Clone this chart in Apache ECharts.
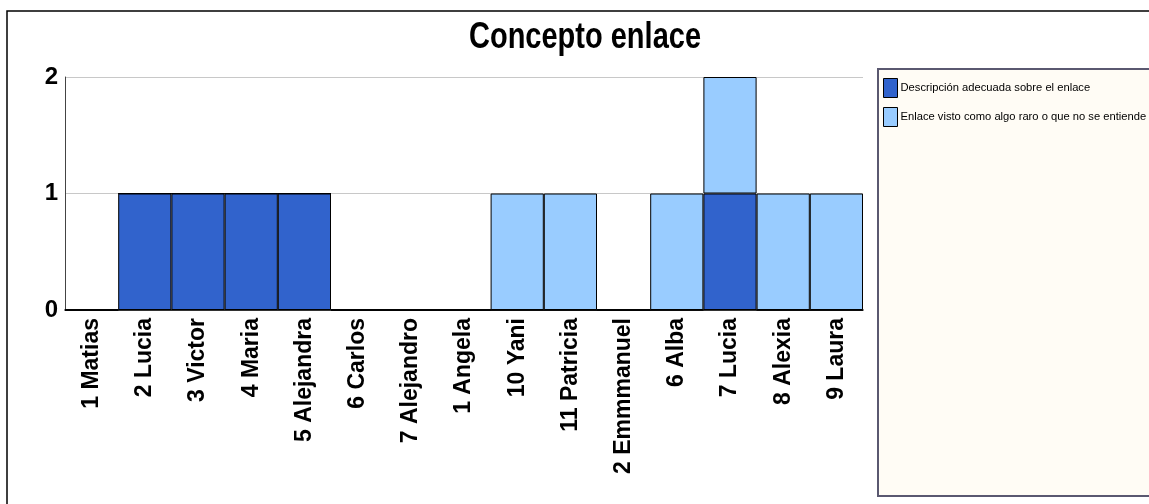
<!DOCTYPE html>
<html>
<head>
<meta charset="utf-8">
<script src="https://cdn.jsdelivr.net/npm/echarts@6/dist/echarts.min.js"></script>
<style>
html,body{margin:0;padding:0;background:#fff;}
#c{width:1149px;height:504px;}
</style>
</head>
<body>
<div id="c"></div>
<script>
const categories = ["1 Matias","2 Lucia","3 Victor","4 Maria","5 Alejandra","6 Carlos","7 Alejandro","1 Angela","10 Yani","11 Patricia","2 Emmmanuel","6 Alba","7 Lucia","8 Alexia","9 Laura"];
const seriesNames = ["Descripción adecuada sobre el enlace","Enlace visto como algo raro o que no se entiende"];
const adecuada = [0,1,1,1,1,0,0,0,0,0,0,0,1,0,0];
const raro = [0,0,0,0,0,0,0,0,1,1,0,1,1,1,1];
const yTicks = [0,1,2];
const titleText = 'Concepto enlace';

const chart = echarts.init(document.getElementById('c'), null, {renderer:'canvas'});
const option = {
  animation:false,
  backgroundColor:'#ffffff',
  graphic:[
    {type:'rect',z:-10,shape:{x:7,y:11,width:1160,height:520},style:{fill:'#fff',stroke:'#000',lineWidth:1.5}},
    {type:'rect',z:-5,shape:{x:878,y:69,width:290,height:427},style:{fill:'#FFFCF5',stroke:'#5a5870',lineWidth:2}},
    {type:'text',x:585,y:38,originX:0,originY:0,scaleY:1.3,z:10,
     style:{text:titleText,fill:'#000',font:'bold 29px "Liberation Sans", Arial, sans-serif',align:'center',verticalAlign:'middle'}}
  ],
  legend:{
    orient:'vertical',
    left:883, top:78,
    padding:0,
    itemWidth:14, itemHeight:19, itemGap:9,
    icon:'rect',
    selectedMode:false,
    itemStyle:{borderColor:'#000',borderWidth:1},
    textStyle:{fontFamily:'"Liberation Sans", Arial, sans-serif',fontSize:11.2,color:'#000',padding:[0,0,0,-2]},
    data:seriesNames
  },
  grid:{left:65,right:286,top:77,bottom:194,containLabel:false},
  xAxis:{
    type:'category',
    data:categories,
    axisLine:{show:true,lineStyle:{color:'#000',width:1.5}},
    axisTick:{show:false},
    axisLabel:{
      rotate:90, margin:8, interval:0,
      fontFamily:'"Liberation Sans", Arial, sans-serif',fontWeight:'bold',fontSize:23,color:'#000'
    }
  },
  yAxis:{
    type:'value',
    min:yTicks[0], max:yTicks[yTicks.length-1], interval:1,
    axisLine:{show:true,lineStyle:{color:'#444',width:1}},
    axisTick:{show:false},
    splitLine:{show:true,lineStyle:{color:'#c8c8c8',width:1}},
    axisLabel:{margin:7,fontFamily:'"Liberation Sans", Arial, sans-serif',fontWeight:'bold',fontSize:24,color:'#000'}
  },
  series:[
    {name:seriesNames[0],type:'bar',stack:'s',data:adecuada,barCategoryGap:'0%',barGap:'0%',
     itemStyle:{color:'#3163CC',borderColor:'#000',borderWidth:1}},
    {name:seriesNames[1],type:'bar',stack:'s',data:raro,barCategoryGap:'0%',barGap:'0%',
     itemStyle:{color:'#99CCFF',borderColor:'#000',borderWidth:1}}
  ]
};
chart.setOption(option);
</script>
</body>
</html>
